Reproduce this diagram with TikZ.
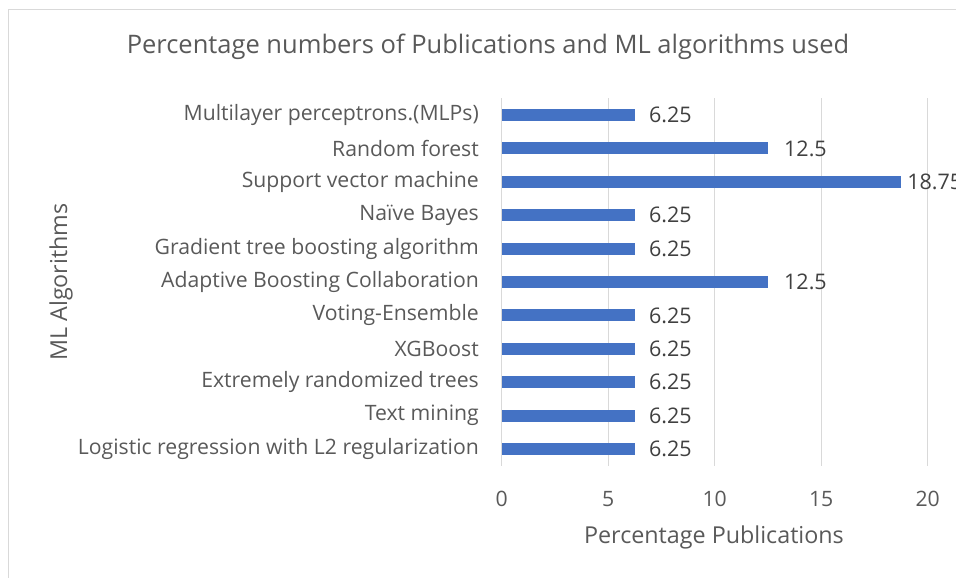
\documentclass[tikz,border=0pt]{standalone}
\usepackage{fontspec}
\setmainfont{Open Sans}
\definecolor{barc}{HTML}{4472C4}
\definecolor{txtc}{HTML}{595959}
\definecolor{dlc}{HTML}{404040}
\definecolor{gridc}{HTML}{D9D9D9}
\tikzset{
  catlabel/.style={anchor=east, inner sep=0pt, text=txtc, font=\fontsize{21.2}{25}\selectfont},
  barbox/.style={fill=barc, draw=none, anchor=west, minimum height=12pt, inner sep=0pt, outer sep=0pt},
  datalabel/.style={anchor=west, inner sep=0pt, text=dlc, font=\fontsize{21.5}{25}\selectfont},
  ticklabel/.style={inner sep=0pt, text=txtc, font=\fontsize{21.2}{25}\selectfont},
  gridline/.style={draw=gridc, line width=1.3pt},
  axtitle/.style={inner sep=0pt, text=txtc, font=\fontsize{23.3}{27}\selectfont},
  charttitle/.style={inner sep=0pt, text=txtc, font=\fontsize{25.5}{30}\selectfont},
}
\begin{document}
\begin{tikzpicture}[x=1pt,y=-1pt]
\useasboundingbox (0,0) rectangle (956,578);
\draw[draw=gridc, line width=1pt] (8.5,578) -- (8.5,9.5) -- (956,9.5);
% gridlines and tick labels
\foreach \v/\n in {0/g0,5/g5,10/g10,15/g15,20/g20}{
  \coordinate (\n t) at ({501.7+21.3*\v},98);
  \coordinate (\n b) at ({501.7+21.3*\v},466);
  \draw[gridline] (\n t) -- (\n b);
  \node[ticklabel] (\n l) at ({501.7+21.3*\v},499) {\v};
}
% bars
\foreach \i/\v/\lab/\sh in {
  0/6.25/{Multilayer perceptrons.(MLPs)}/14,
  1/12.5/{Random forest\ }/16,
  2/18.75/{Support vector machine\ }/6,
  3/6.25/{Naïve Bayes}/14,
  4/6.25/{Gradient tree boosting algorithm}/14,
  5/12.5/{Adaptive Boosting Collaboration}/16,
  6/6.25/{Voting-Ensemble}/14,
  7/6.25/{XGBoost}/14,
  8/6.25/{Extremely randomized trees}/14,
  9/6.25/{Text mining}/14,
  10/6.25/{Logistic regression with L2 regularization}/14}{
  \node[catlabel] (c\i) at (479,{115+33.4*\i}) {\lab};
  \node[barbox, minimum width={21.3*\v pt}] (b\i) at (501.7,{115+33.4*\i}) {};
  \node[datalabel] (d\i) at ([xshift=\sh pt]b\i.east) {\v};
}
\node[charttitle] (title) at (488,47) {Percentage numbers of Publications and ML algorithms used};
\node[axtitle] (xt) at (714,537) {Percentage Publications};
\node[axtitle, rotate=90] (yt) at (61,282) {ML Algorithms};
\end{tikzpicture}
\end{document}
